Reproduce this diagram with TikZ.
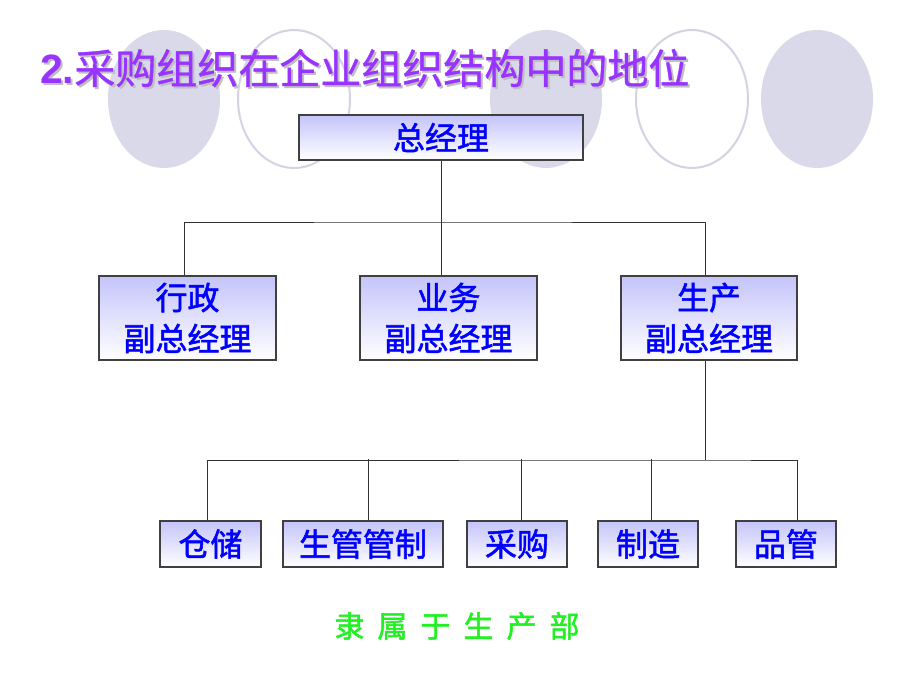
\documentclass[tikz,border=0pt]{standalone}
\usepackage{fontspec}
\newfontfamily\cjk{Noto Sans CJK SC}[FakeBold=1.6]
\newfontfamily\cjkt{Noto Sans CJK SC}[FakeBold=0.9]
\newfontfamily\lat{Liberation Sans}
\definecolor{ttl}{HTML}{9933FF}
\definecolor{boxtop}{HTML}{C4C4FA}
\definecolor{boxtxt}{HTML}{0000FF}
\definecolor{circf}{HTML}{D9D9E9}
\definecolor{circl}{HTML}{D3D3E3}
\definecolor{grn}{HTML}{22F022}
\newcommand{\ttltext}{{\lat\bfseries 2.}{\cjkt\mdseries 采购组织在企业组织结构中的地位}}
\tikzset{
  orgbox/.style={draw=black!75, line width=1.2pt, top color=boxtop, bottom color=white,
    shading angle=0, inner sep=0pt, align=center, font=\cjk\fontsize{32}{41}\selectfont,
    text=boxtxt},
  conn/.style={draw=black!80, line width=1pt},
  fcirc/.style={fill=circf, draw=none},
  ocirc/.style={draw=circl, line width=2pt, fill=white},
}
\begin{document}
\begin{tikzpicture}[x=1pt,y=-1pt]
\useasboundingbox (0,0) rectangle (920,690);
\fill[white] (0,0) rectangle (920,690);
% background circles
\fill[fcirc] (164,99) ellipse [x radius=56, y radius=69];
\draw[ocirc] (294,99) ellipse [x radius=56, y radius=69];
\fill[fcirc] (546,99) ellipse [x radius=56, y radius=69];
\draw[ocirc] (692,99) ellipse [x radius=56, y radius=69];
\fill[fcirc] (817,99) ellipse [x radius=56, y radius=69];
% title (with its light shadow drawn inside the same node)
\node[anchor=west, inner sep=0pt, font=\fontsize{41}{44}\selectfont] (title) at (40,69)
  {\rlap{\hspace{2pt}\raisebox{-2pt}{\color{black!25}\ttltext}}\color{ttl}\ttltext};
% boxes
\node[orgbox, minimum width=284, minimum height=45] (top) at (441,137.5) {总经理};
\node[orgbox, minimum width=177, minimum height=84] (xz) at (187.5,318) {行政\\副总经理};
\node[orgbox, minimum width=177, minimum height=84] (yw) at (448.5,318) {业务\\副总经理};
\node[orgbox, minimum width=176, minimum height=84] (sc) at (709,318) {生产\\副总经理};
\node[orgbox, minimum width=101, minimum height=46] (cc) at (210.5,544) {仓储};
\node[orgbox, minimum width=160, minimum height=46] (sg) at (363,544) {生管管制};
\node[orgbox, minimum width=100, minimum height=46] (cg) at (517,544) {采购};
\node[orgbox, minimum width=100, minimum height=46] (zz) at (648,544) {制造};
\node[orgbox, minimum width=100, minimum height=46] (pg) at (786,544) {品管};
% connectors level 1
\coordinate (bus1) at (441,222);
\draw[conn] (top.south) -- (top.south |- yw.north);
\draw[conn] ([xshift=-3.5pt]xz.north) |- (bus1) -| ([xshift=-4pt]sc.north);
% connectors level 2
\coordinate (bus2) at (705,460);
\draw[conn] ([xshift=-4pt]sc.south) -- (bus2);
\draw[conn] ([xshift=-3.5pt]cc.north) |- (bus2) -| ([xshift=11pt]pg.north);
\draw[conn] ([xshift=5pt]sg.north) -- ++(0,-61);
\draw[conn] ([xshift=4pt]cg.north) -- ++(0,-61);
\draw[conn] ([xshift=3pt]zz.north) -- ++(0,-61);
% note
\node[text=grn, font=\cjk\fontsize{30}{34}\selectfont] (note) at (457,626) {隶\hspace{13pt}属\hspace{13pt}于\hspace{13pt}生\hspace{13pt}产\hspace{13pt}部};
\end{tikzpicture}
\end{document}
